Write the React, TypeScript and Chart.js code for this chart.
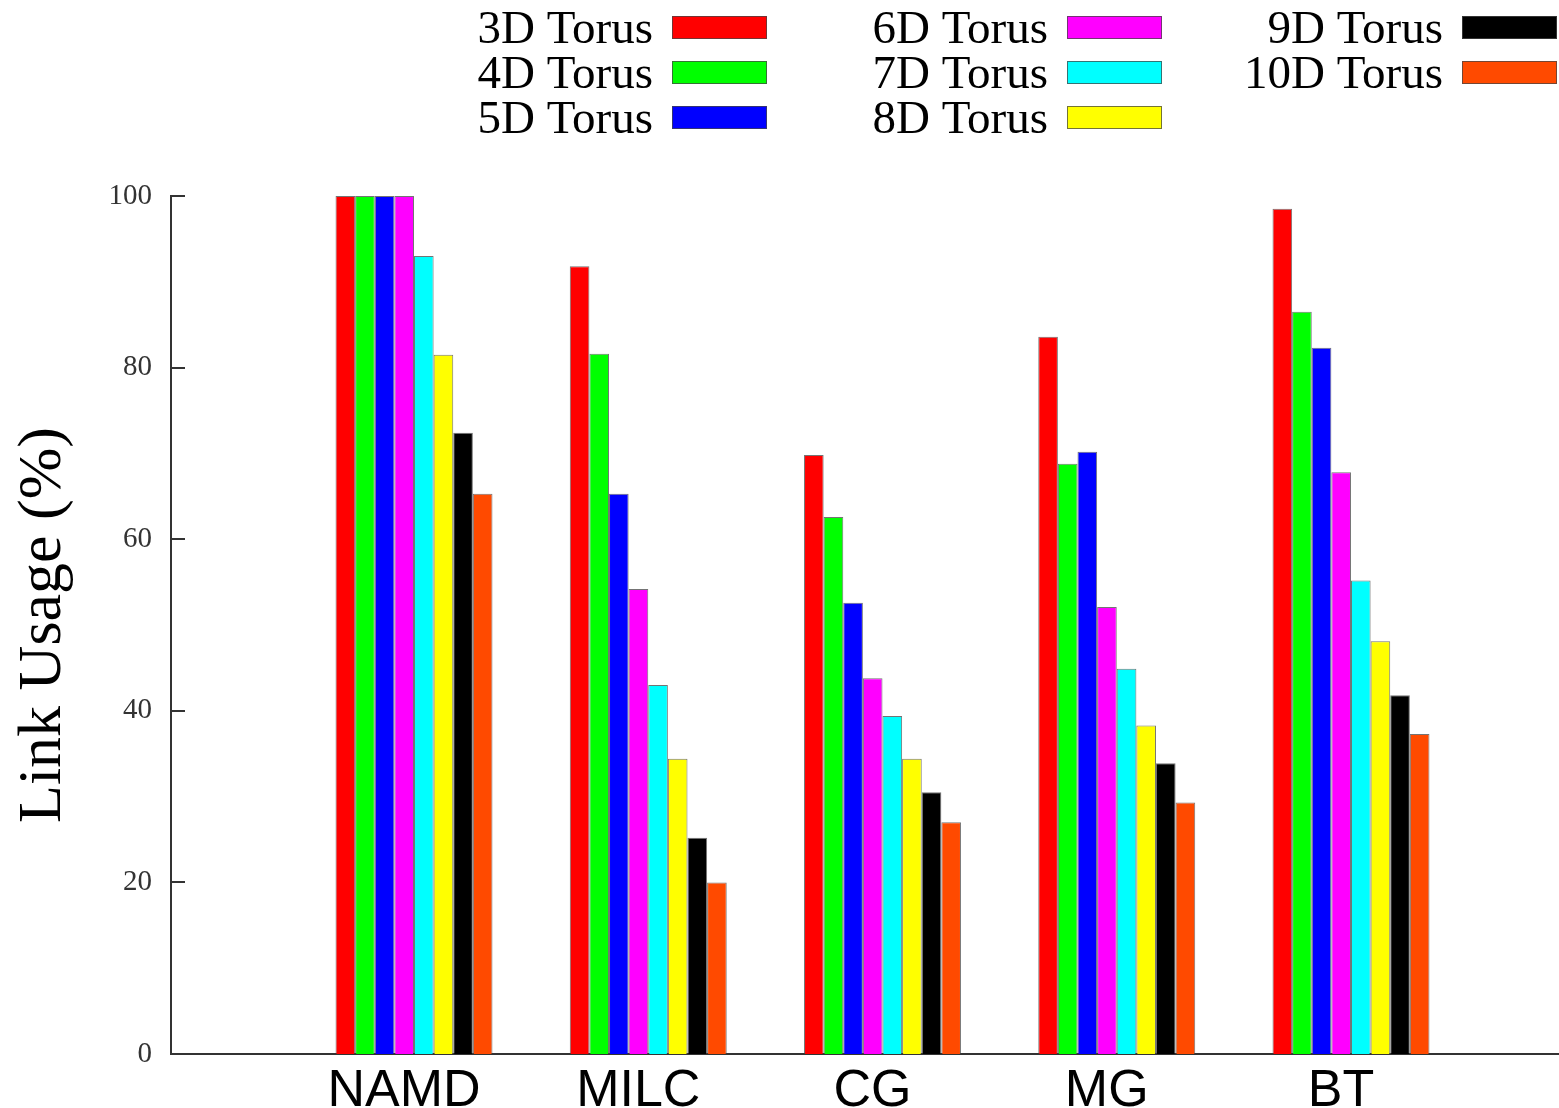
import React, { useEffect, useRef } from "react";
import { Chart, registerables } from "chart.js";

Chart.register(...registerables);

const CATEGORIES = ["NAMD", "MILC", "CG", "MG", "BT"];
const SERIES_LABELS = ["3D Torus", "4D Torus", "5D Torus", "6D Torus", "7D Torus", "8D Torus", "9D Torus", "10D Torus"];
const SERIES_COLORS = ["#ff0000", "#00ff00", "#0000ff", "#ff00ff", "#00ffff", "#ffff00", "#000000", "#ff4a00"];

const TORUS_3D = [100, 91.8, 69.8, 83.6, 98.5];
const TORUS_4D = [100, 81.6, 62.6, 68.8, 86.5];
const TORUS_5D = [100, 65.3, 52.6, 70.2, 82.3];
const TORUS_6D = [100, 54.2, 43.8, 52.1, 67.8];
const TORUS_7D = [93.0, 43.0, 39.4, 44.9, 55.2];
const TORUS_8D = [81.5, 34.4, 34.4, 38.3, 48.1];
const TORUS_9D = [72.4, 25.2, 30.5, 33.9, 41.8];
const TORUS_10D = [65.3, 20.0, 27.0, 29.3, 37.3];

const SERIES_VALUES = [TORUS_3D, TORUS_4D, TORUS_5D, TORUS_6D, TORUS_7D, TORUS_8D, TORUS_9D, TORUS_10D];
const Y_TICKS = [0, 20, 40, 60, 80, 100];

const BORDER = "rgba(70,70,70,0.75)";

const legendPlugin = {
  id: "gnuLegend",
  afterDraw(chart: any) {
    const ctx = chart.ctx;
    const colSwatchX = [672, 1067, 1462];
    const rowCenter = [27, 72, 117];
    ctx.save();
    ctx.font = '47px "Liberation Serif"';
    ctx.textAlign = "right";
    ctx.textBaseline = "alphabetic";
    chart.data.datasets.forEach((ds: any, i: number) => {
      const col = Math.floor(i / 3);
      const row = i % 3;
      const sx = colSwatchX[col];
      const cy = rowCenter[row];
      ctx.fillStyle = "#000";
      ctx.fillText(ds.label, sx - 19, cy + 16);
      ctx.fillStyle = ds.backgroundColor;
      ctx.fillRect(sx, cy - 11, 95, 23);
      ctx.strokeStyle = BORDER;
      ctx.lineWidth = 1;
      ctx.strokeRect(sx + 0.5, cy - 10.5, 94, 22);
    });
    ctx.restore();
  },
};

const innerTicksPlugin = {
  id: "innerTicks",
  afterDatasetsDraw(chart: any) {
    const ctx = chart.ctx;
    const y = chart.scales.y;
    const left = chart.chartArea.left;
    ctx.save();
    ctx.strokeStyle = "#333";
    ctx.lineWidth = 2;
    Y_TICKS.forEach((v) => {
      const py = Math.round(y.getPixelForValue(v));
      ctx.beginPath();
      ctx.moveTo(left, py);
      ctx.lineTo(left + 14, py);
      ctx.stroke();
    });
    ctx.restore();
  },
};

export default function App() {
  const ref = useRef<HTMLCanvasElement | null>(null);

  useEffect(() => {
    document.body.style.margin = "0";
    const canvas = ref.current;
    if (!canvas) return;
    const chart = new Chart(canvas, {
      type: "bar",
      data: {
        datasets: SERIES_LABELS.map((label, i) => ({
          label,
          data: SERIES_VALUES[i].map((v, j) => ({ x: j + 1, y: v })),
          backgroundColor: SERIES_COLORS[i],
          borderColor: BORDER,
          borderWidth: 1,
          categoryPercentage: 0.67,
          barPercentage: 1,
        })),
      },
      options: {
        animation: false,
        responsive: false,
        devicePixelRatio: 1,
        layout: { padding: { top: 196, left: 0, right: 0, bottom: 0 } },
        plugins: {
          legend: { display: false },
          tooltip: { enabled: false },
        },
        scales: {
          x: {
            type: "linear",
            offset: false,
            min: -0.0374,
            max: 5.888,
            grid: { display: false, drawTicks: false },
            border: { display: true, color: "#333", width: 2 },
            afterBuildTicks: (axis: any) => {
              axis.ticks = CATEGORIES.map((_, i) => ({ value: i + 1 }));
            },
            afterFit: (s: any) => {
              s.height = 54;
            },
            ticks: {
              autoSkip: false,
              maxRotation: 0,
              padding: 6,
              labelOffset: -10,
              color: "#000",
              font: { family: '"Liberation Sans"', size: 52 },
              callback: (v: any) => CATEGORIES[Math.round(Number(v)) - 1] ?? "",
            },
          },
          y: {
            min: 0,
            max: 100,
            grid: { display: false, drawTicks: false },
            border: { display: true, color: "#333", width: 2 },
            afterFit: (s: any) => {
              s.width = 171;
            },
            ticks: {
              stepSize: 20,
              padding: 19,
              color: "#333",
              font: { family: '"Liberation Serif"', size: 29 },
            },
            title: {
              display: true,
              text: "Link Usage (%)",
              color: "#000",
              font: { family: '"Liberation Serif"', size: 62 },
              padding: { top: 7, bottom: 0 },
            },
          },
        },
      },
      plugins: [legendPlugin, innerTicksPlugin],
    } as any);
    return () => chart.destroy();
  }, []);

  return (
    <div style={{ width: 1559, height: 1108 }}>
      <canvas ref={ref} width={1559} height={1108} style={{ display: "block" }} />
    </div>
  );
}
